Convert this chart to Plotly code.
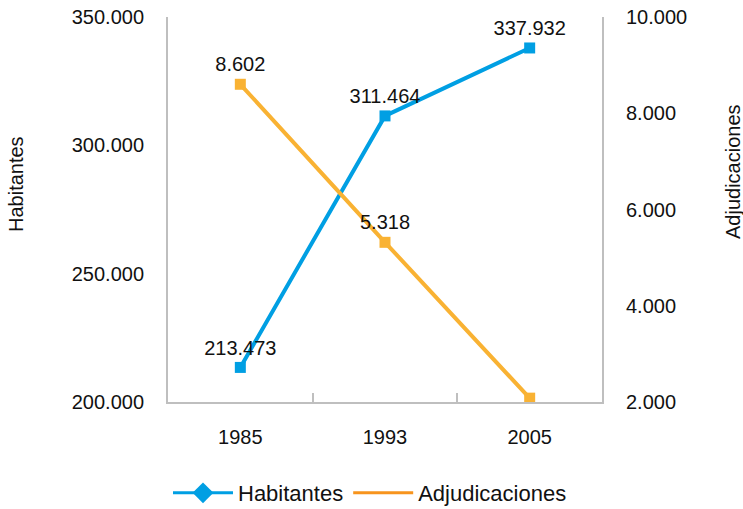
import plotly.graph_objects as go

years = ["1985", "1993", "2005"]
habitantes = [213473, 311464, 337932]
adjudicaciones = [8602, 5318, 2080]
hab_labels = ["213.473", "311.464", "337.932"]
adj_labels = ["8.602", "5.318", ""]
left_ticks = [200000, 250000, 300000, 350000]
right_ticks = [2000, 4000, 6000, 8000, 10000]

BLUE = "#009FE3"
ORANGE = "#F9B233"
FONT = "Liberation Sans, Arial, sans-serif"
AX = "#BFBFBF"
FS = 20

W, H = 743, 509
L, T, R, B = 168, 17, 141, 107
PW, PH = W - L - R, H - T - B


def px(xp):
    return (xp - L) / PW


def py(yp):
    return (H - B - yp) / PH


fig = go.Figure()
fig.add_trace(go.Scatter(
    x=years, y=habitantes, mode="lines+markers+text", text=hab_labels,
    textposition="top center", textfont=dict(size=FS, color="#111"),
    line=dict(color=BLUE, width=4), marker=dict(symbol="square", size=11, color=BLUE),
    showlegend=False, cliponaxis=False))
fig.add_trace(go.Scatter(
    x=years, y=adjudicaciones, mode="lines+markers+text", text=adj_labels, yaxis="y2",
    textposition="top center", textfont=dict(size=FS, color="#111"),
    line=dict(color=ORANGE, width=4), marker=dict(symbol="square", size=11, color=ORANGE),
    showlegend=False, cliponaxis=False))
# legend entries
fig.add_trace(go.Scatter(x=[None], y=[None], mode="lines+markers", name="Habitantes",
                         line=dict(color=BLUE, width=3),
                         marker=dict(symbol="diamond", size=16, color=BLUE)))
fig.add_trace(go.Scatter(x=[None], y=[None], mode="lines", name="Adjudicaciones",
                         line=dict(color="#F7941D", width=3)))

fig.update_layout(
    width=W, height=H,
    margin=dict(l=L, r=R, t=T, b=B, autoexpand=False),
    paper_bgcolor="white", plot_bgcolor="white",
    separators=",.",
    font=dict(family=FONT, size=FS, color="#111"),
    xaxis=dict(type="category", range=[-0.5, 2.5], showgrid=False, showline=True,
               linecolor=AX, linewidth=2,
               ticks="inside", tickson="boundaries", ticklen=9, tickcolor=AX, tickwidth=1.5,
               ticklabelstandoff=16, zeroline=False, automargin=False, ticklabeloverflow="allow"),
    yaxis=dict(range=[200000, 350000], tickvals=left_ticks, tickformat=",d",
               showgrid=False, showline=True, linecolor=AX, linewidth=2,
               ticks="", ticklabelstandoff=18, zeroline=False, automargin=False,
               ticklabeloverflow="allow"),
    yaxis2=dict(range=[2000, 10000], tickvals=right_ticks, tickformat=",d", overlaying="y",
                side="right", showgrid=False, showline=True, linecolor=AX, linewidth=2,
                ticks="", ticklabelstandoff=18, zeroline=False, automargin=False,
                ticklabeloverflow="allow"),
    legend=dict(orientation="h", x=px(370), xanchor="center", y=py(493), yanchor="middle",
                font=dict(size=22), itemwidth=60, bgcolor="rgba(0,0,0,0)"),
    annotations=[
        dict(text="Habitantes", xref="paper", yref="paper", x=px(16), y=py(184),
             textangle=-90, showarrow=False, xanchor="center", yanchor="middle", font=dict(size=FS)),
        dict(text="Adjudicaciones", xref="paper", yref="paper", x=px(733), y=py(172),
             textangle=-90, showarrow=False, xanchor="center", yanchor="middle", font=dict(size=FS)),
    ],
)

fig.write_html("out.html", config={"displayModeBar": False},
               post_script="document.body.style.margin='0';")
